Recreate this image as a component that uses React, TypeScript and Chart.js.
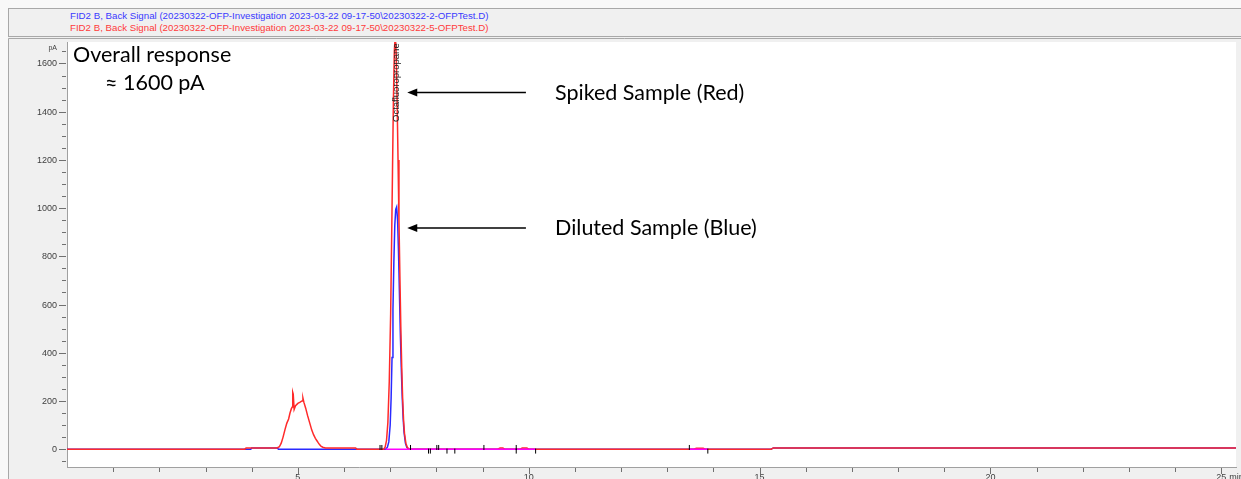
import React, { useEffect, useRef } from "react";
import { Chart, registerables } from "chart.js";

Chart.register(...registerables);

// ---- Data (time in min, signal in pA) ----
const redTimes = [0, 3.85, 3.88, 4.55, 4.6, 4.64, 4.68, 4.72, 4.76, 4.8, 4.83, 4.86, 4.88, 4.89, 4.9, 4.92, 4.95, 5.0, 5.05, 5.09, 5.11, 5.13, 5.17, 5.21, 5.26, 5.3, 5.34, 5.38, 5.41, 5.44, 5.47, 5.5, 5.54, 5.6, 6.25, 6.28, 6.86, 6.89, 6.92, 6.95, 6.98, 7.01, 7.03, 7.05, 7.07, 7.09, 7.11, 7.13, 7.15, 7.17, 7.19, 7.21, 7.23, 7.25, 7.27, 7.29, 7.31, 7.34, 7.37, 7.41, 9.33, 9.38, 9.44, 9.48, 9.82, 9.86, 9.96, 10.0, 13.58, 13.63, 13.78, 13.82, 15.25, 15.3, 25.32];
const redSignal = [0, 0, 5, 5, 10, 25, 50, 80, 107, 125, 150, 168, 175, 235, 228, 165, 180, 190, 195, 200, 212, 195, 170, 140, 107, 80, 60, 45, 36, 27, 19, 12, 8, 5, 5, 0, 0, 8, 35, 110, 280, 560, 850, 1150, 1450, 1650, 1720, 1640, 1450, 1200, 950, 720, 510, 340, 210, 120, 65, 25, 8, 0, 0, 5, 5, 0, 0, 5, 5, 0, 0, 4, 4, 0, 0, 5, 5];

const blueTimes = [0, 3.98, 4.0, 4.55, 4.58, 6.9, 6.94, 6.97, 7.0, 7.02, 7.04, 7.06, 7.08, 7.1, 7.12, 7.14, 7.16, 7.18, 7.2, 7.22, 7.24, 7.26, 7.28, 7.3, 7.33, 7.36, 7.4, 15.25, 15.3, 25.32];
const blueSignal = [0, 0, 5, 5, 0, 0, 8, 30, 100, 210, 380, 580, 780, 930, 995, 1005, 950, 820, 650, 480, 340, 220, 130, 70, 25, 8, 0, 0, 5, 5];

const baselineStart = [6.9, 13.48];
const baselineEnd = [10.15, 13.88];

const markerTimes = [6.78, 6.82, 7.44, 7.83, 7.87, 8.01, 8.05, 8.23, 8.4, 9.03, 9.73, 9.73, 10.15, 13.48, 13.88];
const markerLevels = [7, 7, 7, -8, -8, 7, 7, -8, -8, 7, 7, -8, -8, 7, -8];

const yTickValues = [0, 200, 400, 600, 800, 1000, 1200, 1400, 1600];
const xTickLabels = ["5", "10", "15", "20", "25"];
const xTickValues = [5, 10, 15, 20, 25];

const headerBlue = "FID2 B, Back Signal (20230322-OFP-Investigation 2023-03-22 09-17-50\\20230322-2-OFPTest.D)";
const headerRed = "FID2 B, Back Signal (20230322-OFP-Investigation 2023-03-22 09-17-50\\20230322-5-OFPTest.D)";
const peakName = "Octafluoropropane";

const toPoints = (xs: number[], ys: number[]) => xs.map((x, i) => ({ x, y: ys[i] }));

const decorPlugin = {
  id: "decor",
  beforeDraw(chart: any) {
    const { ctx, chartArea, width, height } = chart;
    ctx.save();
    ctx.fillStyle = "#f0f0f0";
    ctx.fillRect(0, 0, width, height);
    ctx.strokeStyle = "#a8a8a8";
    ctx.lineWidth = 1;
    ctx.beginPath();
    ctx.moveTo(0.5, height);
    ctx.lineTo(0.5, 1.5);
    ctx.lineTo(width, 1.5);
    ctx.stroke();
    ctx.fillStyle = "#ffffff";
    ctx.fillRect(chartArea.left, chartArea.top, chartArea.right - chartArea.left, chartArea.bottom - chartArea.top);
    ctx.restore();
  },
  afterDraw(chart: any) {
    const { ctx, chartArea, scales } = chart;
    const xs = scales.x;
    const ys = scales.y;
    ctx.save();
    // y ticks (major every 200, minor every 50)
    ctx.strokeStyle = "#707070";
    ctx.lineWidth = 1;
    for (let v = -50; v <= 1650; v += 50) {
      const py = Math.round(ys.getPixelForValue(v)) + 0.5;
      const major = v % 200 === 0;
      ctx.beginPath();
      ctx.moveTo(chartArea.left - (major ? 8 : 5), py);
      ctx.lineTo(chartArea.left - 1, py);
      ctx.stroke();
    }
    // y labels
    ctx.fillStyle = "#404040";
    ctx.font = "9px 'Liberation Sans', Arial, sans-serif";
    ctx.textAlign = "right";
    ctx.textBaseline = "middle";
    yTickValues.forEach((v) => {
      ctx.fillText(String(v), chartArea.left - 10, ys.getPixelForValue(v) + 0.5);
    });
    // x ticks (every minute)
    for (let t = 1; t <= 25; t++) {
      const px = Math.round(xs.getPixelForValue(t)) + 0.5;
      const major = t % 5 === 0;
      ctx.beginPath();
      ctx.moveTo(px, chartArea.bottom + 1);
      ctx.lineTo(px, chartArea.bottom + (major ? 7 : 5));
      ctx.stroke();
    }
    // x labels
    ctx.textAlign = "center";
    xTickValues.forEach((t, i) => {
      const px = xs.getPixelForValue(t);
      ctx.fillText(xTickLabels[i], px, chartArea.bottom + 11);
    });
    ctx.textAlign = "left";
    ctx.fillText("min", xs.getPixelForValue(25) + 8, chartArea.bottom + 11);
    // unit
    ctx.font = "7px 'Liberation Sans', Arial, sans-serif";
    ctx.textAlign = "right";
    ctx.fillText("pA", chartArea.left - 10, chartArea.top + 6);

    // peak name, rotated
    ctx.save();
    ctx.translate(xs.getPixelForValue(7.12) + 1, chartArea.top + 80);
    ctx.rotate(-Math.PI / 2);
    ctx.font = "9.5px 'Liberation Sans', Arial, sans-serif";
    ctx.fillStyle = "#202020";
    ctx.textAlign = "left";
    ctx.textBaseline = "middle";
    ctx.fillText(peakName, 0, 0);
    ctx.restore();

    // annotations
    ctx.fillStyle = "#000000";
    ctx.textAlign = "left";
    ctx.textBaseline = "alphabetic";
    ctx.font = "21.5px Lato, 'Open Sans', sans-serif";
    ctx.fillText("Overall response", chartArea.left + 6, chartArea.top + 20);
    ctx.fillText("\u2248 1600 pA", chartArea.left + 38, chartArea.top + 48);

    const arrow = (yVal: number, label: string) => {
      const py = ys.getPixelForValue(yVal);
      const tail = xs.getPixelForValue(9.94);
      const tip = xs.getPixelForValue(7.37);
      ctx.strokeStyle = "#000000";
      ctx.lineWidth = 1.5;
      ctx.beginPath();
      ctx.moveTo(tail, py);
      ctx.lineTo(tip + 8, py);
      ctx.stroke();
      ctx.beginPath();
      ctx.moveTo(tip, py);
      ctx.lineTo(tip + 10, py - 4);
      ctx.lineTo(tip + 10, py + 4);
      ctx.closePath();
      ctx.fill();
      ctx.fillText(label, xs.getPixelForValue(10.57), py + 7);
    };
    arrow(1479, "Spiked Sample (Red)");
    arrow(917, "Diluted Sample (Blue)");
    ctx.restore();
  },
};

export default function App() {
  const canvasRef = useRef<HTMLCanvasElement | null>(null);

  useEffect(() => {
    const magentaData: any[] = [];
    baselineStart.forEach((s, i) => {
      magentaData.push({ x: s, y: 0 }, { x: baselineEnd[i], y: 0 }, { x: baselineEnd[i] + 0.01, y: null });
    });
    const chart = new Chart(canvasRef.current as HTMLCanvasElement, {
      type: "line",
      data: {
        datasets: [
          {
            type: "scatter",
            data: toPoints(markerTimes, markerLevels),
            pointStyle: "line",
            rotation: 90,
            radius: 2.5,
            borderColor: "#000000",
            borderWidth: 1,
            showLine: false,
          } as any,
          {
            data: magentaData,
            borderColor: "#ff00ff",
            borderWidth: 1.5,
            pointRadius: 0,
            spanGaps: false,
          },
          {
            data: toPoints(redTimes, redSignal),
            borderColor: "#ff2a2a",
            borderWidth: 1.5,
            pointRadius: 0,
          },
          {
            data: toPoints(blueTimes, blueSignal),
            borderColor: "#2a2aff",
            borderWidth: 1.5,
            pointRadius: 0,
          },
        ],
      },
      options: {
        animation: false,
        responsive: false,
        maintainAspectRatio: false,
        events: [],
        layout: { padding: { top: 3, right: 0, left: 0, bottom: 0 } },
        plugins: { legend: { display: false }, tooltip: { enabled: false } },
        elements: { line: { tension: 0 } },
        scales: {
          x: {
            type: "linear",
            min: 0,
            max: 25.32,
            grid: { display: false },
            border: { display: true, color: "#a0a0a0", width: 1 },
            ticks: { display: false },
            afterFit: (s: any) => {
              s.height = 12;
            },
          },
          y: {
            type: "linear",
            min: -74,
            max: 1689,
            grid: { display: false },
            border: { display: true, color: "#a0a0a0", width: 1 },
            ticks: { display: false },
            afterFit: (s: any) => {
              s.width = 59;
            },
          },
        },
      },
      plugins: [decorPlugin],
    });
    return () => chart.destroy();
  }, []);

  const headerText: React.CSSProperties = {
    position: "absolute",
    left: 61,
    fontFamily: "'Liberation Sans', Arial, sans-serif",
    fontSize: 9.7,
    lineHeight: "11px",
    whiteSpace: "nowrap",
  };

  return (
    <div style={{ position: "fixed", left: 0, top: 0, width: 1241, height: 479, background: "#f8f8f8", overflow: "hidden" }}>
      <div
        style={{
          position: "absolute",
          left: 8,
          top: 8,
          width: 1240,
          height: 27,
          border: "1px solid #a8a8a8",
          background: "#f0f0f0",
        }}
      >
        <div style={{ ...headerText, top: 1, color: "#3a3aff" }}>{headerBlue}</div>
        <div style={{ ...headerText, top: 13, color: "#ff3a3a" }}>{headerRed}</div>
      </div>
      <canvas ref={canvasRef} width={1233} height={442} style={{ position: "absolute", left: 8, top: 37, width: 1233, height: 442 }} />
    </div>
  );
}
